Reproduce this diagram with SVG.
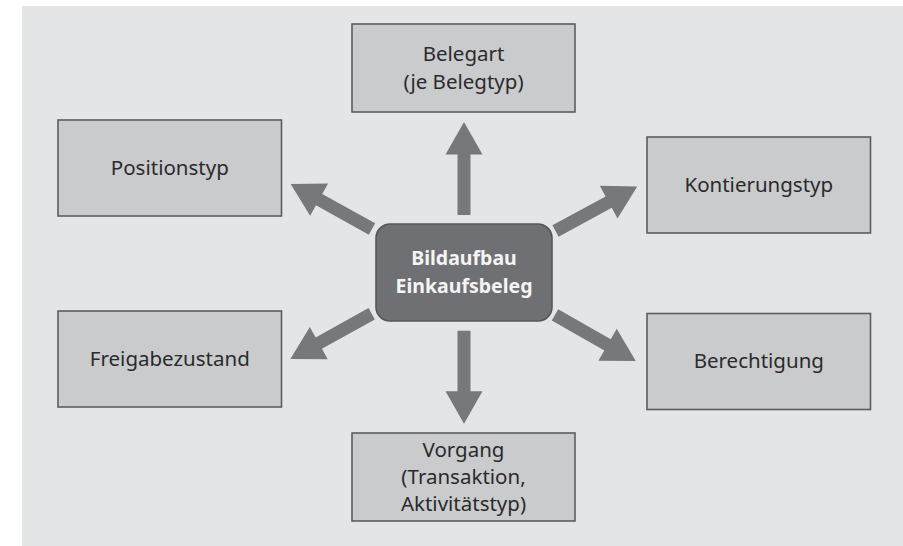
<svg xmlns="http://www.w3.org/2000/svg" width="903" height="546" viewBox="0 0 903 546">
<defs>
<style>
.bg{fill:#e4e5e7}
.box{fill:#cacbcd;stroke:#5c5d60;stroke-width:1.6}
.center{fill:#6f7073;stroke:#56575a;stroke-width:1.6}
.t{font-family:"Noto Sans","Open Sans",sans-serif;font-size:20.5px;fill:#2a2a2c;text-anchor:middle}
.tc{font-family:"Noto Sans","Open Sans",sans-serif;font-size:19.5px;font-weight:bold;fill:#f4f4f5;text-anchor:middle}
.arr{fill:#77787b}
</style>
<path id="arrow" d="M0,-6.5 L60.5,-6.5 L60.5,-18.5 L93,0 L60.5,18.5 L60.5,6.5 L0,6.5 Z"/>
</defs>
<rect x="0" y="0" width="903" height="546" fill="#ffffff"/>
<rect class="bg" x="22" y="6" width="881" height="540"/>
<g id="connectors" class="arr">
<use href="#arrow" transform="translate(464,215) rotate(-90)"/>
<use href="#arrow" transform="translate(464,330.7) rotate(90)"/>
<use href="#arrow" transform="translate(372,229) rotate(209)"/>
<use href="#arrow" transform="translate(555.5,231) rotate(-28.5)"/>
<use href="#arrow" transform="translate(371.7,313.8) rotate(151)"/>
<use href="#arrow" transform="translate(555,314.8) rotate(29.7)"/>
</g>
<g id="center">
<rect class="center" x="376" y="224" width="176" height="97" rx="14" ry="14"/>
<text class="tc" x="464" y="265">Bildaufbau</text>
<text class="tc" x="464" y="292.5">Einkaufsbeleg</text>
</g>
<g id="belegart">
<rect class="box" x="352" y="24" width="223" height="88"/>
<text class="t" x="463.5" y="61">Belegart</text>
<text class="t" x="463.5" y="89">(je Belegtyp)</text>
</g>
<g id="positionstyp">
<rect class="box" x="58" y="120" width="223.5" height="96"/>
<text class="t" x="169.8" y="175">Positionstyp</text>
</g>
<g id="kontierungstyp">
<rect class="box" x="647" y="137" width="223.5" height="96"/>
<text class="t" x="758.8" y="191.5">Kontierungstyp</text>
</g>
<g id="freigabezustand">
<rect class="box" x="58" y="311" width="223.5" height="96"/>
<text class="t" x="169.8" y="366">Freigabezustand</text>
</g>
<g id="berechtigung">
<rect class="box" x="647" y="313.5" width="223.5" height="96"/>
<text class="t" x="758.8" y="368">Berechtigung</text>
</g>
<g id="vorgang">
<rect class="box" x="352" y="433" width="223" height="88"/>
<text class="t" x="463.5" y="456.5">Vorgang</text>
<text class="t" x="463.5" y="483.5">(Transaktion,</text>
<text class="t" x="463.5" y="510.5">Aktivitätstyp)</text>
</g>
</svg>
